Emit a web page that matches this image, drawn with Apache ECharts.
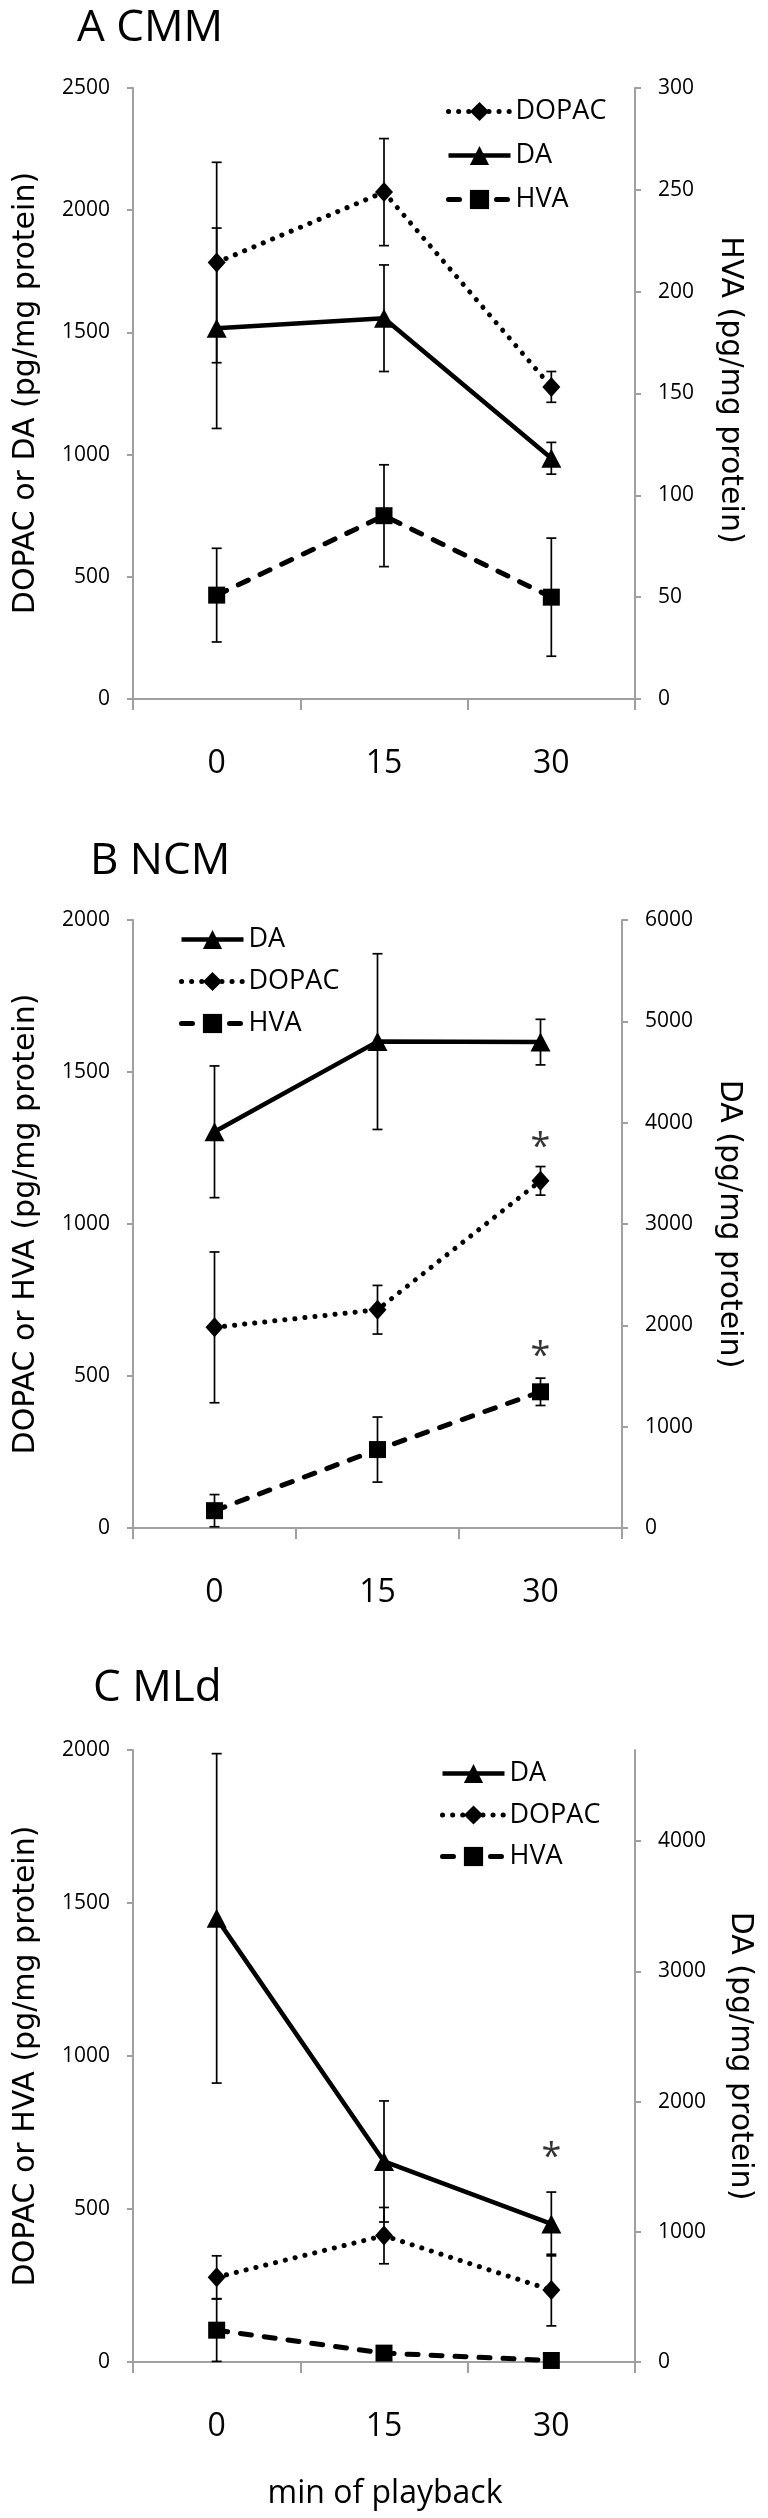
<!DOCTYPE html>
<html><head><meta charset="utf-8">
<script src="https://cdn.jsdelivr.net/npm/echarts@6/dist/echarts.min.js"></script>
<style>html,body{margin:0;padding:0;background:#fff}#c{width:768px;height:2518px}</style>
</head><body><div id="c"></div>
<script>
// ---------- data ----------
const categories = ['0', '15', '30'];
const xTitle = 'min of playback';

// Panel A  CMM
const A_DOPAC = [1786, 2074, 1277];
const A_DOPAC_SEM = [410, 219, 63];
const A_DA = [1517, 1558, 985];
const A_DA_SEM = [410, 218, 65];
const A_HVA = [51, 90, 50];          // right axis
const A_HVA_SEM = [23, 25, 29];

// Panel B  NCM
const B_DA = [3910, 4800, 4795];     // right axis
const B_DA_SEM = [650, 867, 225];
const B_DOPAC = [660, 718, 1142];
const B_DOPAC_SEM = [248, 80, 47];
const B_HVA = [57, 258, 448];
const B_HVA_SEM = [53, 107, 45];
const B_STARS = [[2, 1286], [2, 600]];

// Panel C  MLd
const C_DA = [3407, 1540, 1060];     // right axis
const C_DA_SEM = [1265, 465, 245];
const C_DOPAC = [277, 413, 235];
const C_DOPAC_SEM = [70, 92, 117];
const C_HVA = [104, 29, 5];
const C_HVA_SEM = [102, 10, 5];
const C_STARS = [[2, 704]];

const C_RIGHT_TICKS = [0, 1000, 2000, 3000, 4000];

// ---------- styles ----------
const NUM_FONT = "'Open Sans', 'Liberation Sans', sans-serif";
const TITLE_FONT = "'DejaVu Sans', Verdana, sans-serif";
const AXIS_GRAY = '#a0a0a0';

const STY = {
  DA:    { symbol: 'triangle', symbolSize: [20, 19], lineStyle: { color: '#000', width: 4.5, type: 'solid' } },
  DOPAC: { symbol: 'diamond',  symbolSize: [18, 20], lineStyle: { color: '#000', width: 5, type: [0.1, 10], cap: 'round' } },
  HVA:   { symbol: 'rect',     symbolSize: 17,       lineStyle: { color: '#000', width: 5, type: [11, 13], cap: 'round' } }
};

function lineSeries(name, values, g, yIdx) {
  const s = STY[name];
  return {
    type: 'line', name: name, data: values, xAxisIndex: g, yAxisIndex: yIdx,
    symbol: s.symbol, symbolSize: s.symbolSize, showSymbol: true,
    lineStyle: s.lineStyle, itemStyle: { color: '#000', borderWidth: 0 },
    z: 3, animation: false, emphasis: { disabled: true }
  };
}

function errSeries(values, sem, g, yIdx) {
  return {
    type: 'custom', xAxisIndex: g, yAxisIndex: yIdx, z: 1, animation: false, silent: true,
    data: values.map((v, i) => [i, v - sem[i], v + sem[i]]),
    encode: { x: 0, y: [1, 2] },
    renderItem: function (params, api) {
      const lo = api.coord([api.value(0), api.value(1)]);
      const hi = api.coord([api.value(0), api.value(2)]);
      const w = 5, st = { stroke: '#000', lineWidth: 1.7 };
      return { type: 'group', children: [
        { type: 'line', shape: { x1: lo[0], y1: lo[1], x2: hi[0], y2: hi[1] }, style: st },
        { type: 'line', shape: { x1: lo[0] - w, y1: lo[1], x2: lo[0] + w, y2: lo[1] }, style: st },
        { type: 'line', shape: { x1: hi[0] - w, y1: hi[1], x2: hi[0] + w, y2: hi[1] }, style: st }
      ]};
    }
  };
}

function starSeries(points, g, yIdx) {
  return {
    type: 'scatter', name: 'sig', data: points, xAxisIndex: g, yAxisIndex: yIdx,
    symbolSize: 1, itemStyle: { color: 'rgba(0,0,0,0)' }, animation: false, silent: true,
    label: { show: true, formatter: '*', position: 'inside', offset: [0, 11],
             fontSize: 36, fontFamily: NUM_FONT, color: '#000' }
  };
}

function xAxis(g) {
  return {
    type: 'category', gridIndex: g, data: categories, boundaryGap: true,
    axisLine: { show: true, lineStyle: { color: AXIS_GRAY, width: 2 } },
    axisTick: { show: true, interval: 0, length: 11, lineStyle: { color: AXIS_GRAY, width: 2 } },
    axisLabel: { interval: 0, margin: 49, fontSize: 32, lineHeight: 32, fontFamily: NUM_FONT, color: '#000' },
    splitLine: { show: false }
  };
}

function yAxis(g, pos, min, max, interval, extra) {
  const ax = {
    type: 'value', gridIndex: g, position: pos, min: min, max: max, interval: interval,
    axisLine: { show: true, onZero: false, lineStyle: { color: AXIS_GRAY, width: 2 } },
    axisTick: { show: true, length: 6, lineStyle: { color: AXIS_GRAY, width: 2 } },
    axisLabel: { margin: 23, fontSize: 21, fontFamily: NUM_FONT, color: '#000',
                 formatter: function (v) { return String(v); } },
    splitLine: { show: false }
  };
  if (extra) {
    ax.axisLabel.customValues = extra;
    ax.axisTick.customValues = extra;
  }
  return ax;
}

function legendItem(name) {
  const s = STY[name];
  return { name: name, icon: s.symbol, lineStyle: Object.assign({}, s.lineStyle) };
}

function legend(items, left, top, gap) {
  return {
    data: items.map(n => ({ name: n, lineStyle: Object.assign({}, STY[n].lineStyle) })),
    orient: 'vertical', left: left, top: top, itemGap: gap,
    itemWidth: 62, itemHeight: 24, selectedMode: false,
    textStyle: { fontSize: 27, lineHeight: 27, fontFamily: NUM_FONT, color: '#000' }
  };
}

function gText(txt, x, y, size, font, rot, align) {
  return {
    type: 'text', x: x, y: y, rotation: rot || 0, silent: true,
    style: { text: txt, fontSize: size, fontFamily: font, fill: '#000',
             align: align || 'center', verticalAlign: 'middle',
             textAlign: align || 'center', textVerticalAlign: 'middle' }
  };
}

const option = {
  backgroundColor: '#fff',
  animation: false,
  grid: [
    { left: 133, top: 88, width: 502, height: 611 },
    { left: 133, top: 920, width: 489, height: 608 },
    { left: 133, top: 1750, width: 502, height: 612 }
  ],
  xAxis: [xAxis(0), xAxis(1), xAxis(2)],
  yAxis: [
    yAxis(0, 'left', 0, 2500, 500),
    yAxis(0, 'right', 0, 300, 50),
    yAxis(1, 'left', 0, 2000, 500),
    yAxis(1, 'right', 0, 6000, 1000),
    yAxis(2, 'left', 0, 2000, 500),
    yAxis(2, 'right', 0, 4700, 1000, C_RIGHT_TICKS)
  ],
  legend: [
    legend(['DOPAC', 'DA', 'HVA'], 441, 93, 17),
    legend(['DA', 'DOPAC', 'HVA'], 174, 921, 15),
    legend(['DA', 'DOPAC', 'HVA'], 435, 1755, 14.5)
  ],
  series: [
    errSeries(A_DOPAC, A_DOPAC_SEM, 0, 0),
    errSeries(A_DA, A_DA_SEM, 0, 0),
    errSeries(A_HVA, A_HVA_SEM, 0, 1),
    lineSeries('DOPAC', A_DOPAC, 0, 0),
    lineSeries('DA', A_DA, 0, 0),
    lineSeries('HVA', A_HVA, 0, 1),

    errSeries(B_DA, B_DA_SEM, 1, 3),
    errSeries(B_DOPAC, B_DOPAC_SEM, 1, 2),
    errSeries(B_HVA, B_HVA_SEM, 1, 2),
    lineSeries('DA', B_DA, 1, 3),
    lineSeries('DOPAC', B_DOPAC, 1, 2),
    lineSeries('HVA', B_HVA, 1, 2),
    starSeries(B_STARS, 1, 2),

    errSeries(C_DA, C_DA_SEM, 2, 5),
    errSeries(C_DOPAC, C_DOPAC_SEM, 2, 4),
    errSeries(C_HVA, C_HVA_SEM, 2, 4),
    lineSeries('DA', C_DA, 2, 5),
    lineSeries('DOPAC', C_DOPAC, 2, 4),
    lineSeries('HVA', C_HVA, 2, 4),
    starSeries(C_STARS, 2, 4)
  ],
  graphic: [
    gText('A CMM', 77, 28, 44, NUM_FONT, 0, 'left'),
    gText('B NCM', 90, 861, 44, NUM_FONT, 0, 'left'),
    gText('C MLd', 93, 1688, 44, NUM_FONT, 0, 'left'),
    gText('DOPAC or DA (pg/mg protein)', 26, 393, 30, TITLE_FONT, Math.PI / 2),
    gText('HVA (pg/mg protein)', 730, 390, 30, TITLE_FONT, -Math.PI / 2),
    gText('DOPAC or HVA (pg/mg protein)', 26, 1224, 30, TITLE_FONT, Math.PI / 2),
    gText('DA (pg/mg protein)', 729, 1224, 30, TITLE_FONT, -Math.PI / 2),
    gText('DOPAC or HVA (pg/mg protein)', 26, 2056, 30, TITLE_FONT, Math.PI / 2),
    gText('DA (pg/mg protein)', 740, 2056, 30, TITLE_FONT, -Math.PI / 2),
    gText(xTitle, 385, 2494, 32, NUM_FONT, 0, 'center')
  ]
};

const chart = echarts.init(document.getElementById('c'), null, { renderer: 'canvas' });
chart.setOption(option);
</script>
</body></html>
